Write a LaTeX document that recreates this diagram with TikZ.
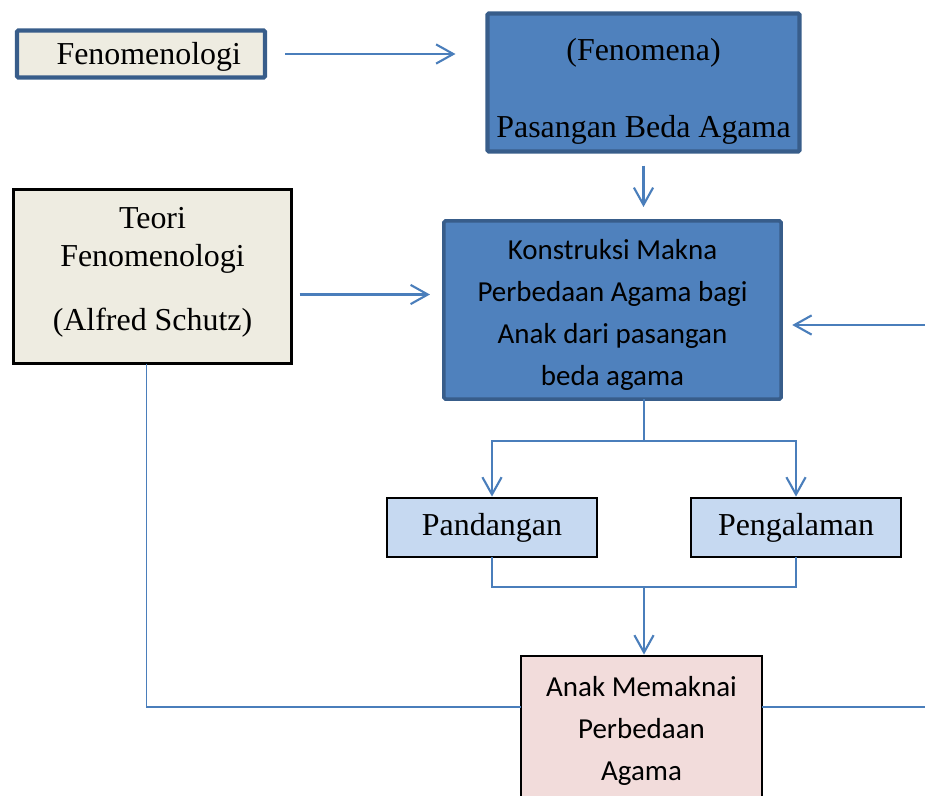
\documentclass[tikz,border=0pt]{standalone}
\usepackage{fontspec}
\setmainfont{Liberation Serif}
\setsansfont{Carlito}
\usepackage{tikz}
\usetikzlibrary{arrows.meta,calc}
\definecolor{OfficeBlue}{HTML}{4F81BD}
\definecolor{DarkBlue}{HTML}{385D8A}
\definecolor{Parchment}{HTML}{EEECE1}
\definecolor{PaleBlue}{HTML}{C6D9F1}
\definecolor{PaleRose}{HTML}{F2DCDB}
\definecolor{LinkBlue}{HTML}{4A7EBB}

\begin{document}
\begin{tikzpicture}[x=0.025cm,y=-0.025cm,
    box/.style={draw=black,line width=1.2pt,inner sep=0pt,outer sep=0pt,align=center},
    navybox/.style={box,draw=DarkBlue,rounded corners=1pt},
    serif/.style={font=\fontsize{22.7}{27}\selectfont},
    sans/.style={font=\sffamily\fontsize{20.6}{29.9}\selectfont},
    arr/.style={-{Straight Barb[length=4.3mm,width=4.8mm]},line width=1.5pt,LinkBlue},
    link/.style={line width=1.5pt,LinkBlue}]
    \useasboundingbox (0,0) rectangle (925,795);
    \clip (0,0) rectangle (925,795);
    \node[navybox,serif,line width=3pt,fill=Parchment,minimum width=6.2cm,minimum height=1.18cm] (fen) at (141,54) {\hspace{11pt}\rule{0pt}{20pt}Fenomenologi};
    \node[navybox,serif,line width=3pt,fill=OfficeBlue,minimum width=7.8cm,minimum height=3.45cm] (phen) at (643.5,82.5) {\rule{0pt}{28.5pt}(Fenomena)\\[28pt]Pasangan Beda Agama};
    \node[box,serif,fill=Parchment,line width=1.6pt,minimum width=6.95cm,minimum height=4.35cm] (teori) at (152.5,276.5) {Teori\\Fenomenologi\\[19pt](Alfred Schutz)\rule[-10.6pt]{0pt}{10.6pt}};
    \node[navybox,sans,line width=2.5pt,fill=OfficeBlue,minimum width=8.425cm,minimum height=4.45cm] (kons) at (612.5,310) {\rule{0pt}{21.5pt}Konstruksi Makna\\Perbedaan Agama bagi\\Anak dari pasangan\\beda agama};
    \node[box,serif,fill=PaleBlue,minimum width=5.25cm,minimum height=1.475cm] (pand) at (492,527.5) {Pandangan};
    \node[box,serif,fill=PaleBlue,minimum width=5.25cm,minimum height=1.475cm] (peng) at (796,527.5) {Pengalaman};
    \node[box,sans,fill=PaleRose,minimum width=6.025cm,minimum height=3.75cm] (anak) at (641.5,731) {Anak Memaknai\\Perbedaan\\Agama};
    \coordinate (redge) at (925,325);
    \coordinate (tout) at ($(teori.east)+(0,18)$);
    \coordinate (tdown) at ($(teori.south)+(-6,0)$);
    \coordinate (split) at ($(pand.north)!.5!(peng.north)+(0,-57)$);
    \coordinate (join) at ($(pand.south)!.5!(peng.south)+(0,30)$);
    \coordinate (aleft) at ($(anak.north west)!.34!(anak.south west)$);
    \coordinate (aright) at ($(anak.north east)!.34!(anak.south east)$);
    % arrows into the top boxes
    \draw[arr,shorten <=0.5cm,shorten >=0.8cm] (fen.east) -- (fen.east -| phen.west);
    \draw[arr,shorten <=0.35cm,shorten >=0.35cm] (phen.south) -- (phen.south |- kons.north);
    \draw[arr,shorten <=0.2cm,shorten >=0.35cm] (tout) -- (tout -| kons.west);
    \draw[arr,shorten >=0.28cm] (redge) -- (redge -| kons.east);
    % fork and join
    \draw[link] (kons.south -| split) -- (split);
    \draw[arr,shorten >=1pt] (split) -| (pand.north);
    \draw[arr,shorten >=1pt] (split) -| (peng.north);
    \draw[link] (pand.south) |- (join) -| (peng.south);
    \draw[arr,shorten >=1pt] (join) -- (join |- anak.north);
    % side lines
    \draw[link,line width=1.2pt] (tdown) |- (aleft);
    \draw[link] (aright) -- (aright -| redge);
\end{tikzpicture}
\end{document}
